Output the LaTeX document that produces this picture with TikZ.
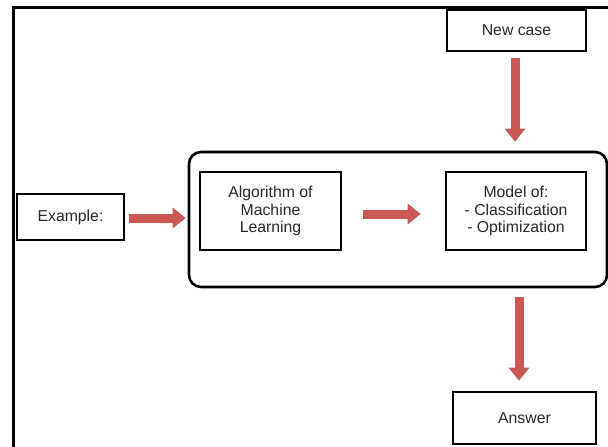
\documentclass[tikz,border=0pt]{standalone}
\usepackage{fontspec}
\setmainfont{Liberation Sans}
\usetikzlibrary{arrows.meta,calc}
\definecolor{arrowred}{RGB}{203,88,84}
\definecolor{txt}{RGB}{40,40,40}
\tikzset{
  boxnode/.style={draw=black, line width=2.6pt, inner sep=0pt, align=center,
    text=txt, font=\fontsize{15.8}{17.5}\selectfont},
  bigarrow/.style={draw=arrowred, line width=9pt,
    -{Triangle[length=13pt,width=20pt]}},
}
\begin{document}
\begin{tikzpicture}[x=1pt,y=-1pt]
\useasboundingbox (0,0) rectangle (608,447);
\fill[white] (0,0) rectangle (608,447);
% outer frame
\draw[line width=3pt, line cap=rect] (13,447) -- (13,7) -- (608,7);
% container
\node[draw=black, line width=2.6pt, rounded corners=12pt,
      minimum width=418pt, minimum height=135pt, inner sep=0pt]
      (container) at (398,219.5) {};
% nodes
\node[boxnode, minimum width=139pt, minimum height=41pt] (newcase) at (516.5,30.5) {New case};
\node[boxnode, minimum width=107pt, minimum height=46pt] (example) at (70.5,217) {Example:};
\node[boxnode, minimum width=141pt, minimum height=78pt] (algo) at (270.5,211) {Algorithm of\\Machine\\Learning};
\node[boxnode, minimum width=140pt, minimum height=78pt] (model) at (516,211) {Model of:\\- Classification\\- Optimization};
\node[boxnode, minimum width=143pt, minimum height=52pt] (answer) at (524.5,418) {Answer};
% arrows
\draw[bigarrow] ([xshift=-1.5pt,yshift=-6pt]newcase.south) -- ([xshift=-1.5pt,yshift=9pt]newcase.south |- container.north);
\draw[bigarrow] ([xshift=4pt,yshift=-1pt]example.east) -- ([xshift=-2pt,yshift=-1pt]example.east -| container.west);
\draw[bigarrow] ([xshift=21pt,yshift=-3pt]algo.east) -- ([xshift=-24pt,yshift=-3pt]model.west);
\draw[bigarrow] ([xshift=-5.5pt,yshift=-9pt]answer.north |- container.south) -- ([xshift=-5.5pt,yshift=10pt]answer.north);
\end{tikzpicture}
\end{document}
